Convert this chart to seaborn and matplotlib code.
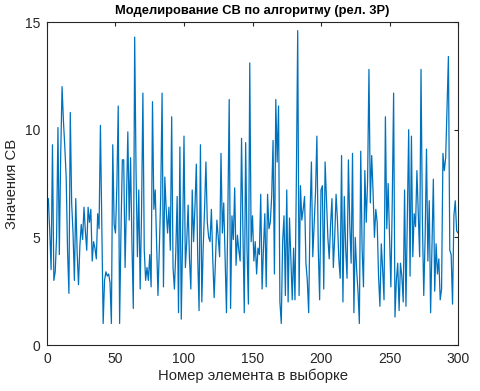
import numpy as np
import matplotlib
matplotlib.use("Agg")
import matplotlib.pyplot as plt
import seaborn as sns

# Значения СВ (по 50 элементов)
values_001_050 = [6.8, 5.3, 3.5, 9.3, 3.0, 3.4, 5.0, 10.1, 4.2, 8.8,
                  12.0, 10.4, 9.2, 7.8, 4.4, 2.4, 10.8, 6.6, 5.2, 3.0,
                  6.8, 4.3, 2.8, 4.6, 5.6, 4.9, 6.4, 5.3, 4.4, 6.4,
                  5.7, 6.3, 3.9, 4.8, 4.5, 4.0, 6.1, 5.4, 10.2, 5.6,
                  1.0, 3.0, 3.4, 3.2, 3.3, 2.9, 1.0, 9.3, 5.6, 5.2]
values_051_100 = [7.4, 11.1, 1.0, 5.3, 8.6, 8.6, 3.6, 6.6, 9.9, 5.8,
                  8.7, 4.7, 1.7, 14.3, 8.1, 4.1, 7.2, 2.6, 6.1, 11.7,
                  4.4, 3.0, 3.6, 3.0, 4.2, 2.7, 11.3, 6.3, 7.2, 4.7,
                  2.3, 4.5, 6.9, 11.7, 2.7, 7.8, 6.3, 5.2, 6.4, 4.4,
                  10.6, 3.6, 2.6, 4.3, 6.9, 1.5, 9.2, 1.2, 5.0, 9.7]
values_101_150 = [3.6, 4.8, 6.5, 4.0, 2.6, 7.2, 4.8, 6.4, 8.4, 4.1,
                  1.6, 9.3, 2.0, 4.5, 6.3, 8.5, 5.7, 5.0, 4.8, 6.3,
                  4.0, 2.2, 4.0, 5.8, 5.0, 4.1, 8.9, 5.2, 6.6, 4.0,
                  1.5, 6.1, 11.4, 1.7, 6.0, 4.9, 7.3, 3.7, 5.1, 4.4,
                  3.9, 9.6, 5.3, 1.5, 9.4, 4.5, 1.9, 13.1, 4.8, 6.0]
values_151_200 = [3.9, 4.8, 3.3, 4.5, 4.2, 7.0, 2.6, 4.5, 6.1, 2.7,
                  7.0, 5.4, 5.7, 6.9, 9.5, 3.3, 11.4, 8.5, 11.1, 2.0,
                  1.0, 4.8, 6.0, 2.3, 7.2, 2.0, 5.9, 4.0, 2.1, 4.5,
                  2.1, 7.6, 14.6, 2.3, 7.4, 5.8, 6.3, 6.9, 3.8, 3.0,
                  1.5, 6.0, 8.5, 4.1, 5.6, 7.1, 9.7, 4.5, 2.1, 7.2]
values_201_250 = [7.4, 2.6, 8.5, 6.7, 5.0, 4.0, 5.6, 6.8, 3.6, 5.0,
                  7.0, 5.8, 4.0, 3.1, 8.8, 2.0, 6.9, 4.5, 3.1, 8.6,
                  5.6, 3.8, 8.9, 1.5, 5.0, 3.5, 2.5, 1.0, 9.0, 4.5,
                  2.7, 8.1, 5.7, 7.6, 12.8, 6.6, 8.8, 7.1, 5.0, 6.3,
                  5.7, 3.2, 1.8, 4.7, 3.5, 2.1, 10.6, 5.4, 7.5, 5.0]
values_251_300 = [2.7, 6.6, 11.7, 1.3, 3.0, 3.8, 1.6, 3.8, 3.2, 2.0,
                  7.2, 1.8, 6.0, 10.0, 3.2, 9.7, 4.1, 6.1, 5.5, 8.1,
                  6.1, 4.1, 12.8, 5.8, 2.3, 5.0, 9.1, 3.9, 6.7, 1.5,
                  4.5, 7.7, 2.5, 4.7, 3.3, 4.0, 2.1, 2.6, 8.9, 8.1,
                  8.7, 11.0, 13.4, 4.4, 4.2, 1.9, 6.0, 6.7, 5.3, 5.2]

x_ticks = [0, 50, 100, 150, 200, 250, 300]
y_ticks = [0, 5, 10, 15]

values = (values_001_050 + values_051_100 + values_101_150
          + values_151_200 + values_201_250 + values_251_300)
idx = np.arange(1, len(values) + 1)

sns.set_style("white")
plt.rcParams['font.family'] = ['Liberation Sans', 'DejaVu Sans']

axis_col = '#262626'

fig = plt.figure(figsize=(4.81, 3.91), dpi=100)
ax = fig.add_axes([0.0977, 0.1176, 0.8545, 0.8261])

sns.lineplot(x=idx, y=values, ax=ax, color='#0072BD', linewidth=0.9)

ax.set_xlim(0, 300)
ax.set_ylim(0, 15)
ax.set_xticks(x_ticks)
ax.set_yticks(y_ticks)
ax.tick_params(direction='in', top=True, right=True, length=3, width=0.8,
               color=axis_col, labelcolor=axis_col, labelsize=10, pad=5)
for s in ax.spines.values():
    s.set_color(axis_col)
    s.set_linewidth(0.8)

ax.set_title('Моделирование СВ по алгоритму (рел. 3Р)', fontsize=9.3,
             fontweight='bold', pad=6, color='black')
ax.set_xlabel('Номер элемента в выборке', fontsize=10.7, color=axis_col, labelpad=2)
ax.set_ylabel('Значения СВ', fontsize=10.7, color=axis_col, labelpad=4)

fig.savefig('out.png', dpi=100)
